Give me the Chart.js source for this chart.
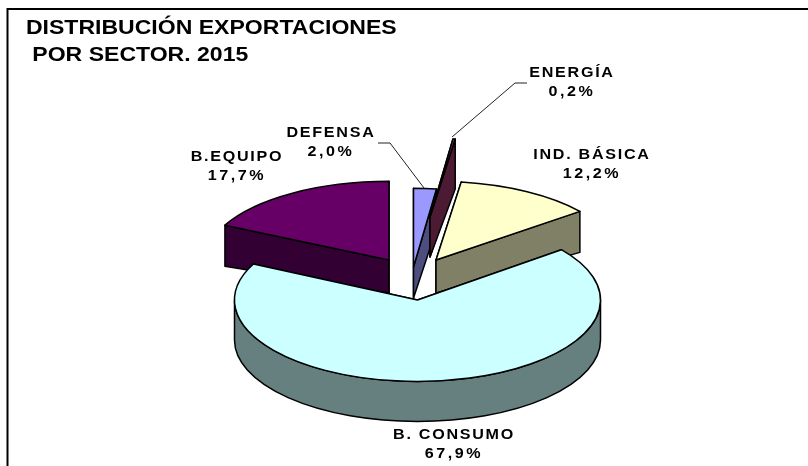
<!DOCTYPE html>
<html>
<head>
<meta charset="utf-8">
<title>Distribución exportaciones por sector</title>
<script src="https://cdn.jsdelivr.net/npm/chart.js@4"></script>
<style>
    html, body { margin: 0; padding: 0; background: #fff; }
    #wrap { position: relative; width: 808px; height: 466px; }
</style>
</head>
<body>
<div id="wrap"><canvas id="grafico"></canvas></div>
<script>
// Datos
const titulo = ['DISTRIBUCIÓN EXPORTACIONES', ' POR SECTOR. 2015'];
const sectores = ['DEFENSA', 'ENERGÍA', 'IND. BÁSICA', 'B. CONSUMO', 'B.EQUIPO'];
const valores = [2.0, 0.2, 12.2, 67.9, 17.7];

// Colores de cara superior y de lateral
const coloresCara = ['#9999ff', '#993366', '#ffffcc', '#ccffff', '#660066'];
const coloresLado = ['#4d4d80', '#4d1a33', '#808066', '#668080', '#330033'];

// Vertice de cada porcion ya separada, aplastado y grosor (efecto 3D)
const vertices = [[413.5, 267], [430, 217], [436, 260], [417.5, 300], [389, 260]];
const aplastado = [0.43, 0.43, 0.43, 0.445, 0.43];
const grosorCentro = [31, 40, 33, 40, 33];
const grosorBorde = [40, 50, 41, 40, 41];
const ordenDibujo = [0, 1, 4, 2, 3];

// Etiquetas: centro de texto y linea guia
const posEtiquetas = [[331, 133], [572, 73], [592, 155], [454, 435], [237, 157]];
const guias = [
    [[424, 188], [390, 143], [378, 143]],
    [[452, 137], [515, 83], [527, 83]]
];

// El texto del original esta estirado a lo ancho
const anchoTitulo = 1.152;
const anchoEtiqueta = 1.15;

function caraLateral(ctx, x1, y1, x2, y2, d1, d2, color) {
    ctx.beginPath();
    ctx.moveTo(x1, y1);
    ctx.lineTo(x2, y2);
    ctx.lineTo(x2, y2 + d2);
    ctx.lineTo(x1, y1 + d1);
    ctx.closePath();
    ctx.fillStyle = color;
    ctx.fill();
    ctx.stroke();
}

// Plugin: dibuja las porciones de Chart.js como pastel 3D separado
const pastel3D = {
    id: 'pastel3D',
    beforeDraw(chart) {
        // El titulo se dibuja entre este gancho y beforeDatasetsDraw
        chart.ctx.save();
        chart.ctx.scale(anchoTitulo, 1);
    },
    beforeDatasetsDraw(chart) {
        const ctx = chart.ctx;
        const arcos = chart.getDatasetMeta(0).data;
        ctx.restore();

        ctx.save();
        ctx.strokeStyle = '#000';
        ctx.lineWidth = 1.5;
        ctx.lineJoin = 'round';

        ordenDibujo.forEach(i => {
            const arco = arcos[i];
            const [vx, vy] = vertices[i];
            const k = aplastado[i];
            const r = arco.outerRadius;
            const ini = arco.startAngle;
            const fin = arco.endAngle;
            const xIni = vx + r * Math.cos(ini);
            const yIni = vy + r * k * Math.sin(ini);
            const xFin = vx + r * Math.cos(fin);
            const yFin = vy + r * k * Math.sin(fin);

            // Caras radiales
            caraLateral(ctx, vx, vy, xIni, yIni, grosorCentro[i], grosorBorde[i], coloresLado[i]);
            caraLateral(ctx, vx, vy, xFin, yFin, grosorCentro[i], grosorBorde[i], coloresLado[i]);

            // Pared exterior, solo la parte frontal
            const desde = Math.max(ini, 0);
            const hasta = Math.min(fin, Math.PI);
            if (hasta > desde) {
                ctx.beginPath();
                ctx.ellipse(vx, vy, r, r * k, 0, desde, hasta);
                ctx.ellipse(vx, vy + grosorBorde[i], r, r * k, 0, hasta, desde, true);
                ctx.closePath();
                ctx.fillStyle = coloresLado[i];
                ctx.fill();
                ctx.stroke();
            }

            // Cara superior: la rellena el propio arco de Chart.js
            ctx.save();
            ctx.translate(vx, vy);
            ctx.scale(1, k);
            ctx.translate(-arco.x, -arco.y);
            arco.draw(ctx);
            ctx.restore();

            ctx.beginPath();
            ctx.moveTo(vx, vy);
            ctx.ellipse(vx, vy, r, r * k, 0, ini, fin);
            ctx.closePath();
            ctx.stroke();
        });
        ctx.restore();
        return false;
    },
    afterDraw(chart) {
        const ctx = chart.ctx;
        ctx.save();

        // Marco: solo arriba y a la izquierda, el resto queda cortado
        ctx.strokeStyle = '#000';
        ctx.lineWidth = 2;
        ctx.beginPath();
        ctx.moveTo(7.5, 466);
        ctx.lineTo(7.5, 9);
        ctx.lineTo(808, 9);
        ctx.stroke();

        // Lineas guia
        ctx.lineWidth = 1;
        ctx.strokeStyle = '#222';
        guias.forEach(g => {
            ctx.beginPath();
            g.forEach((p, j) => j ? ctx.lineTo(p[0], p[1]) : ctx.moveTo(p[0], p[1]));
            ctx.stroke();
        });

        // Etiquetas de sector y porcentaje
        ctx.fillStyle = '#000';
        ctx.font = 'bold 14px "Liberation Sans", Arial, sans-serif';
        ctx.textAlign = 'center';
        ctx.textBaseline = 'middle';
        sectores.forEach((s, i) => {
            const [x, y] = posEtiquetas[i];
            ctx.save();
            ctx.translate(x, y);
            ctx.scale(anchoEtiqueta, 1);
            ctx.letterSpacing = '1.5px';
            ctx.fillText(s, 0, 0);
            ctx.letterSpacing = '2.2px';
            ctx.fillText(valores[i].toFixed(1).replace('.', ',') + '%', 0, 19.5);
            ctx.restore();
        });
        ctx.restore();
    }
};

new Chart(document.getElementById('grafico'), {
    type: 'pie',
    data: {
        labels: sectores,
        datasets: [{
            data: valores,
            backgroundColor: coloresCara,
            borderWidth: 0,
            radius: 183
        }]
    },
    options: {
        responsive: true,
        maintainAspectRatio: false,
        animation: false,
        layout: { padding: { left: 22.5, top: 15 } },
        plugins: {
            legend: { display: false },
            tooltip: { enabled: false },
            title: {
                display: true,
                text: titulo,
                align: 'start',
                color: '#000',
                font: { family: '"Liberation Sans", Arial, sans-serif', size: 20, weight: 'bold', lineHeight: 1.35 },
                padding: 0
            }
        }
    },
    plugins: [pastel3D]
});
</script>
</body>
</html>
